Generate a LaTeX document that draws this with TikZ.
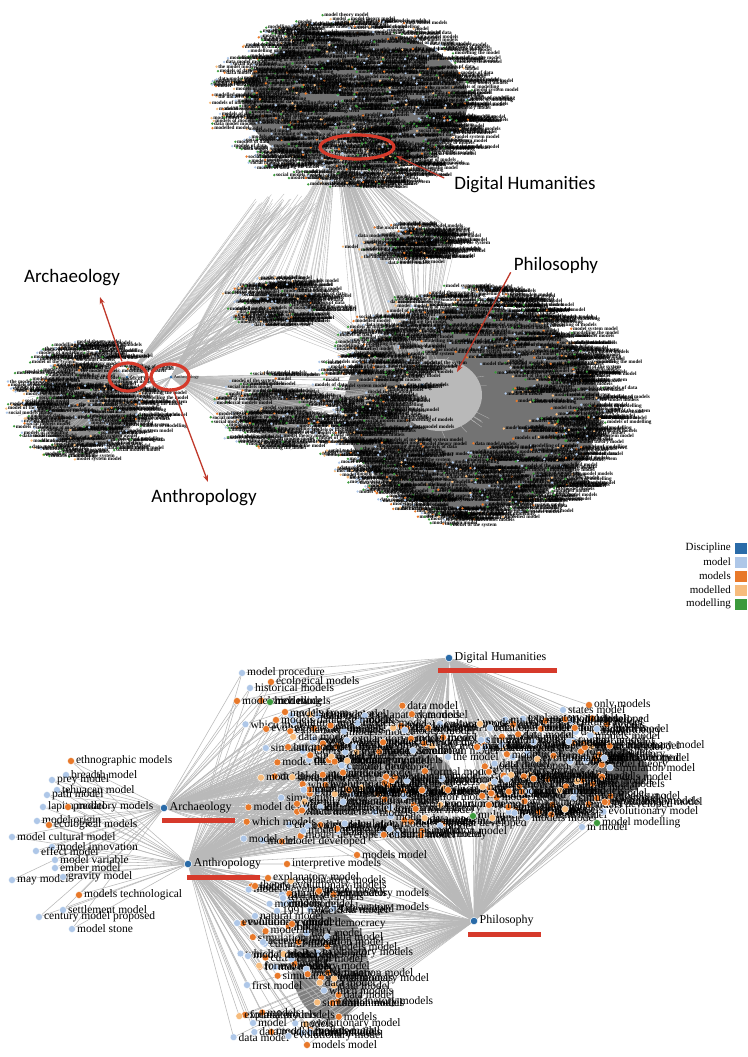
\documentclass[tikz,border=0pt]{standalone}
\usepackage{fontspec}
\setmainfont{Liberation Serif}
\newfontfamily\calloutfont{Carlito}
\usetikzlibrary{arrows.meta,shapes.geometric}

\definecolor{discipline}{HTML}{2A6BA8}
\definecolor{modelc}{HTML}{AEC7E8}
\definecolor{modelsc}{HTML}{E8792A}
\definecolor{modelledc}{HTML}{F7BC7C}
\definecolor{modellingc}{HTML}{3C9A3C}
\definecolor{marker}{HTML}{D63A2B}
\definecolor{arrowred}{HTML}{C0392B}

\pgfdeclarelayer{edges}
\pgfsetlayers{edges,main}

\tikzset{
  tophub/.style={circle, fill=discipline, inner sep=0pt, minimum size=3pt},
  bothub/.style={circle, fill=discipline, draw=white, line width=0.5pt, inner sep=0pt, minimum size=7.5pt},
  leafdot/.style={circle, draw=white, line width=0.4pt, inner sep=0pt, minimum size=7pt},
  tinyword/.style={anchor=west, inner sep=0pt, font=\fontsize{5.2}{5.2}\selectfont\bfseries, text=black},
  leaftext/.style={anchor=west, inner sep=1.2pt, font=\fontsize{11.5}{12}\selectfont},
  hubtext/.style={anchor=west, inner sep=1.5pt, font=\fontsize{12}{13}\selectfont},
  tinyhub/.style={anchor=west, inner sep=1pt, font=\fontsize{4.5}{5}\selectfont},
  toplink/.style={draw=gray!55, line width=0.35pt},
  link/.style={draw=gray!55, line width=0.55pt},
  ring/.style={ellipse, draw=marker, line width=3.2pt, inner sep=0pt},
  markbar/.style={draw=marker, line width=5pt},
  pointer/.style={draw=arrowred, line width=1.3pt, -{Stealth[length=7pt,width=5pt]}},
  calltext/.style={font=\calloutfont\fontsize{19}{21}\selectfont, inner sep=1pt},
  legendtext/.style={anchor=east, inner sep=1pt, font=\fontsize{11}{12}\selectfont},
  swatch/.style={anchor=west, inner sep=0pt, minimum width=12pt, minimum height=11pt}
}

% word lists for the overlapping labels
\def\topwords{{"model","models of modelling","modelling the model","modelled model","model of the system","the model models","models of data","model theory model","data model models","modelling of models","model system model","social models model"}}
\def\topcols{{"modellingc","modellingc","modelc","modelc","modelsc","modelledc"}}
\def\botwords{{"model","models","model theory","models model","explanatory models","evolutionary model","simulation model","formal models","model developed","cultural model","which models","data model"}}
\def\botcols{{"modelc","modelc","modelsc","modelsc","modelsc","modelsc","modelledc","modelc"}}

% #1 prefix, #2 count, #3 cx, #4 cy, #5 rx, #6 ry, #7 inner fraction
\newcommand{\topcloud}[7]{%
  \foreach \i in {1,...,#2}{
    \pgfmathsetmacro{\ang}{360*rnd}
    \pgfmathsetmacro{\rad}{#7+(1-#7)*sqrt(rnd)}
    \pgfmathsetmacro{\px}{#3+#5*\rad*cos(\ang)}
    \pgfmathsetmacro{\py}{#4+#6*\rad*sin(\ang)}
    \pgfmathparse{\topwords[int(11.99*rnd)]}\let\wrd\pgfmathresult
    \pgfmathparse{\topcols[int(5.99*rnd)]}\let\dotcol\pgfmathresult
    \fill[\dotcol] (\px,\py) circle (1.3);
    \node[tinyword] (#1\i) at (\px+1.6,\py) {\wrd};
  }}

% #1 hub, #2 prefix, #3 count, #4 cx, #5 cy, #6 rx, #7 ry
\newcommand{\topfan}[7]{%
  \foreach \i in {1,...,#3}{
    \pgfmathsetmacro{\ang}{360*rnd}
    \pgfmathsetmacro{\rad}{sqrt(rnd)}
    \coordinate (#2\i) at ({#4+#6*\rad*cos(\ang)},{#5+#7*\rad*sin(\ang)});
    \draw[toplink] (#1) -- (#2\i);
  }}

% #1 prefix, #2 count, #3 x0, #4 x1, #5 y0, #6 y1, #7 hubs
\newcommand{\botpoints}[7]{%
  \foreach \i in {1,...,#2}{
    \coordinate (#1\i) at ({#3+(#4-#3)*rnd},{#5+(#6-#5)*rnd});
    \foreach \h in {#7}{\draw[link] (\h) -- (#1\i);}
  }}

% #1 prefix, #2 count
\newcommand{\botlabels}[2]{%
  \foreach \i in {1,...,#2}{
    \pgfmathparse{\botwords[int(11.99*rnd)]}\let\wrd\pgfmathresult
    \pgfmathparse{\botcols[int(7.99*rnd)]}\let\dotcol\pgfmathresult
    \node[leafdot, fill=\dotcol] (#1d\i) at (#1\i) {};
    \node[leaftext] (#1t\i) at (#1d\i.east) {\wrd};
  }}

% #1 name, #2 x, #3 y, #4 colour, #5 text
\newcommand{\addleaf}[5]{%
  \node[leafdot, fill=#4] (#1) at (#2,#3) {};
  \node[leaftext] (#1t) at (#1.east) {#5};}

\begin{document}
\begin{tikzpicture}[x=1pt, y=-1pt]
  \pgfmathsetseed{42}
  \begin{pgfonlayer}{edges}
    \fill[white] (0,0) rectangle (747,1057);
    % dark masses under the piled-up labels
    \fill[black!55] (356,100) ellipse [x radius=112, y radius=70];
    \fill[black!55] (472,408) ellipse [x radius=128, y radius=102];
    \fill[black!45] (88,405) ellipse [x radius=50, y radius=42];
    \fill[black!45] (410,243) ellipse [x radius=42, y radius=12];
    \fill[black!45] (285,302) ellipse [x radius=34, y radius=16];
    \fill[black!45] (278,412) ellipse [x radius=34, y radius=26];
    \fill[gray!55] (440,395) ellipse [x radius=42, y radius=36];
    \fill[gray!55] (358,150) ellipse [x radius=32, y radius=12];
    \fill[black!60] (388,778) ellipse [x radius=66, y radius=32];
    \fill[black!60] (580,772) ellipse [x radius=68, y radius=30];
    \fill[black!50] (330,965) ellipse [x radius=38, y radius=55];
  \end{pgfonlayer}
  \useasboundingbox (0,0) rectangle (747,1057);

  % ---------- upper network ----------
  \node[tophub] (dhT) at (336,147) {};
  \node[tophub] (archT) at (127,377) {};
  \node[tophub] (anthT) at (171,377) {};
  \node[tophub] (philT) at (422,385) {};

  % ---------- lower network hubs ----------
  \node[bothub] (dhB) at (449,658) {};
  \node[bothub] (archB) at (164,808) {};
  \node[bothub] (anthB) at (188,864) {};
  \node[bothub] (philB) at (474,921) {};

  \begin{pgfonlayer}{edges}
    \topfan{dhT}{fa}{40}{350}{140}{55}{25}
    \topfan{dhT}{fb}{55}{410}{245}{60}{22}
    \topfan{dhT}{fc}{70}{400}{370}{45}{40}
    \topfan{dhT}{fd}{35}{285}{303}{45}{25}
    \topfan{archT}{fe}{30}{275}{205}{30}{12}
    \topfan{anthT}{ff}{25}{290}{205}{30}{12}
    \topfan{archT}{fg}{40}{280}{305}{50}{25}
    \topfan{anthT}{fh}{40}{280}{305}{50}{25}
    \topfan{anthT}{fk}{50}{272}{415}{50}{40}
    \topfan{anthT}{fm}{40}{350}{395}{35}{25}
    \topfan{archT}{fn}{40}{85}{400}{70}{60}
    \topfan{anthT}{fo}{15}{100}{420}{50}{40}
    \topfan{philT}{fp}{45}{405}{245}{55}{20}
    \topfan{philT}{fq}{30}{290}{310}{40}{22}
    \topfan{philT}{fr}{70}{445}{400}{50}{45}
    \topfan{philT}{fs}{15}{290}{420}{35}{30}

    \botpoints{ml}{25}{240}{320}{700}{845}{dhB,archB,anthB}
    \botpoints{mu}{100}{292}{445}{705}{835}{dhB,archB,anthB,philB}
    \botpoints{md}{60}{232}{340}{880}{1040}{anthB,philB}
    \botpoints{rt}{100}{475}{612}{718}{820}{dhB,philB}
  \end{pgfonlayer}

  \topcloud{dw}{600}{340}{100}{135}{88}{0}
  \topcloud{cw}{80}{395}{243}{55}{20}{0}
  \topcloud{ew}{80}{270}{302}{50}{26}{0}
  \topcloud{kw}{85}{260}{412}{50}{40}{0}
  \topcloud{aw}{200}{75}{402}{72}{60}{0}
  \topcloud{pw}{750}{457}{405}{150}{120}{0.32}

  \node[tinyhub] (dhTl) at (dhT.east) {Digital Humanities};
  \node[tinyhub] (archTl) at (archT.east) {Archaeology};
  \node[tinyhub] (anthTl) at (anthT.east) {Anthropology};
  \node[tinyhub] (philTl) at (philT.east) {Philosophy};

  % red rings and call-outs
  \node[ring, minimum width=74pt, minimum height=24pt] (dhring) at (357,147) {};
  \node[ring, minimum width=38pt, minimum height=28pt] (archring) at (128,377) {};
  \node[ring, minimum width=38pt, minimum height=26pt] (anthring) at (170,377) {};

  \node[calltext] (dhcall) at (525,185) {Digital Humanities};
  \node[calltext] (philcall) at (556,265) {Philosophy};
  \node[calltext] (archcall) at (72,278) {Archaeology};
  \node[calltext] (anthcall) at (204,498) {Anthropology};

  \coordinate (dhtip) at (396,156);
  \coordinate (philtip) at (457,372);
  \coordinate (archtip) at (100,297);
  \coordinate (anthtip) at (208,482);
  \draw[pointer] ([shift={(-9,-7)}]dhcall.west) -- (dhtip);
  \draw[pointer] ([shift={(-2,-2)}]philcall.south west) -- (philtip);
  \draw[pointer] ([xshift=-6]archring.north) -- (archtip);
  \draw[pointer] ([xshift=4]anthring.south) -- (anthtip);

  % ---------- legend ----------
  \node[legendtext] (lg1) at (732,548) {Discipline};
  \node[legendtext] (lg2) at (732,562) {model};
  \node[legendtext] (lg3) at (732,576) {models};
  \node[legendtext] (lg4) at (732,590) {modelled};
  \node[legendtext] (lg5) at (732,604) {modelling};
  \node[swatch, fill=discipline] (sw1) at (735,548) {};
  \node[swatch, fill=modelc] (sw2) at (735,562) {};
  \node[swatch, fill=modelsc] (sw3) at (735,576) {};
  \node[swatch, fill=modelledc] (sw4) at (735,590) {};
  \node[swatch, fill=modellingc] (sw5) at (735,604) {};

  % ---------- lower network leaves ----------
  % left
  \addleaf{ethno}{71}{761}{modelsc}{ethnographic models}
  \addleaf{breadth}{66}{775}{modelc}{breadth model}
  \addleaf{prey}{52}{780}{modelc}{prey model}
  \addleaf{tehuacan}{57}{790}{modelc}{tehuacan model}
  \addleaf{path}{47}{795}{modelc}{path model}
  \addleaf{lapita}{43}{807}{modelc}{lapita model}
  \addleaf{predat}{68}{807}{modelsc}{predatory models}
  \addleaf{origin}{37}{821}{modelc}{model origin}
  \addleaf{ecolog}{49}{825}{modelsc}{ecological models}
  \addleaf{cultur}{12}{837}{modelc}{model cultural model}
  \addleaf{innov}{52}{847}{modelc}{model innovation}
  \addleaf{effect}{36}{851}{modelc}{effect model}
  \addleaf{variab}{55}{860}{modelc}{model variable}
  \addleaf{ember}{55}{868}{modelc}{ember model}
  \addleaf{may}{12}{880}{modelc}{may model}
  \addleaf{gravity}{63}{877}{modelc}{gravity model}
  \addleaf{techn}{79}{895}{modelsc}{models technological}
  \addleaf{settle}{63}{910}{modelc}{settlement model}
  \addleaf{century}{39}{917}{modelc}{century model proposed}
  \addleaf{stone}{72}{929}{modelc}{model stone}

  % middle, upper part
  \botlabels{ml}{25}
  \botlabels{mu}{100}
  \addleaf{proc}{242}{673}{modelc}{model procedure}
  \addleaf{ecolm}{271}{682}{modelsc}{ecological models}
  \addleaf{hist}{250}{688}{modelc}{historical models}
  \addleaf{review}{237}{701}{modelsc}{models review}
  \addleaf{green}{270}{702}{modellingc}{modelling}
  \addleaf{from}{285}{712}{modelsc}{models from}
  \addleaf{database}{276}{720}{modelsc}{models database models}
  \addleaf{ours}{288}{747}{modelsc}{our models}
  \addleaf{the}{448}{757}{modelc}{the model}
  \addleaf{formal}{448}{790}{modelsc}{formal model}
  \addleaf{multi}{473}{816}{modellingc}{multiple models}

  % middle, lower part
  \botlabels{md}{60}
  \addleaf{interp}{287}{864}{modelsc}{interpretive models}
  \addleaf{explan}{268}{878}{modelsc}{explanatory model}
  \addleaf{theory}{255}{886}{modelsc}{theory evolutionary models}
  \addleaf{dynamic}{283}{898}{modelc}{dynamic models}
  \addleaf{year}{277}{911}{modelc}{1991 model}
  \addleaf{natural}{255}{916}{modelc}{natural model}
  \addleaf{democ}{292}{924}{modelsc}{cultural democracy}
  \addleaf{accept}{263}{942}{modelc}{accepted model}
  \addleaf{develop}{248}{956}{modelc}{model developed}
  \addleaf{first}{247}{985}{modelc}{first model}
  \addleaf{mlow}{253}{1023}{modelc}{model}
  \addleaf{more}{307}{1045}{modelsc}{models model}
  \addleaf{socio}{357}{855}{modelsc}{models model}

  % right
  \botlabels{rt}{100}
  \addleaf{only}{589}{705}{modelsc}{only models}
  \addleaf{states}{563}{710}{modelc}{states model}
  \addleaf{relat}{490}{728}{modelc}{relational model}
  \addleaf{simul}{481}{740}{modelc}{simulation model}
  \addleaf{mmodel}{582}{827}{modelc}{m model}
  \addleaf{modelling}{597}{823}{modellingc}{model modelling}

  \begin{pgfonlayer}{edges}
    \foreach \n in {ethno,breadth,prey,tehuacan,path,lapita,predat,origin,ecolog,cultur,innov,effect,variab,ember,may,gravity,techn,settle,century,stone}
      \draw[link] (archB) -- (\n) (anthB) -- (\n);
    \foreach \n in {proc,ecolm,hist,review,green,from,database,ours}
      \draw[link] (dhB) -- (\n) (archB) -- (\n) (anthB) -- (\n);
    \foreach \n in {the,formal,multi,only,states,relat,simul,mmodel,modelling}
      \draw[link] (dhB) -- (\n) (philB) -- (\n);
    \foreach \n in {interp,explan,theory,dynamic,year,natural,democ,accept,develop,first,mlow,more,socio}
      \draw[link] (anthB) -- (\n) (philB) -- (\n);
  \end{pgfonlayer}

  % hub labels and red bars
  \node[hubtext] (dhBl) at (dhB.east) {Digital Humanities};
  \node[hubtext] (archBl) at (archB.east) {Archaeology};
  \node[hubtext] (anthBl) at (anthB.east) {Anthropology};
  \node[hubtext] (philBl) at (philB.east) {Philosophy};
  \draw[markbar] ([xshift=-11]dhB.south) ++(0,8) -- ++(119,0);
  \draw[markbar] ([xshift=-2]archB.south) ++(0,8) -- ++(73,0);
  \draw[markbar] ([xshift=-1]anthB.south) ++(0,9) -- ++(73,0);
  \draw[markbar] ([xshift=-6]philB.south) ++(0,9) -- ++(73,0);
\end{tikzpicture}
\end{document}
